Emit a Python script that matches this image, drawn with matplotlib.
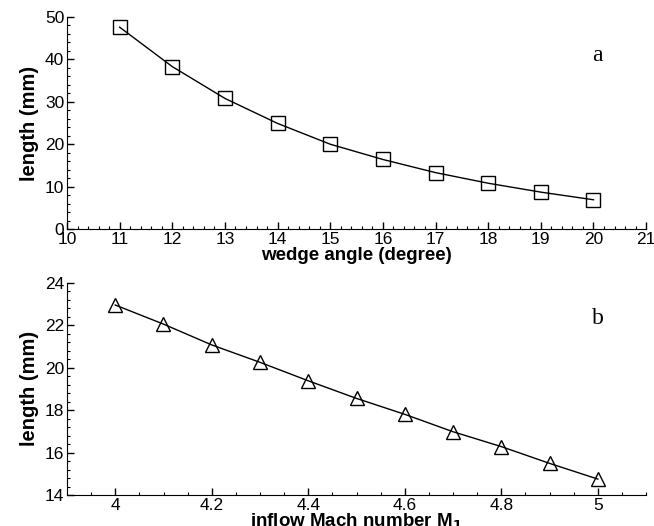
import numpy as np
import matplotlib.pyplot as plt
from matplotlib.ticker import MultipleLocator

# data
wedge_angle = [11, 12, 13, 14, 15, 16, 17, 18, 19, 20]
length_a = [47.6, 38.3, 30.8, 24.9, 20.0, 16.4, 13.3, 10.8, 8.7, 6.9]

mach = [4.0, 4.1, 4.2, 4.3, 4.4, 4.5, 4.6, 4.7, 4.8, 4.9, 5.0]
length_b = [22.95, 22.05, 21.07, 20.25, 19.38, 18.55, 17.8, 16.98, 16.28, 15.49, 14.75]

plt.rcParams['font.family'] = ['Liberation Sans', 'DejaVu Sans']
plt.rcParams['font.size'] = 12.5

fig = plt.figure(figsize=(6.54, 5.26), dpi=100)
ax1 = fig.add_axes([0.1024, 0.5646, 0.8856, 0.4031])
ax2 = fig.add_axes([0.1024, 0.0589, 0.8856, 0.4036])

ax1.plot(wedge_angle, length_a, color='black', lw=1,
         marker='s', ms=9.5, mfc='none', mec='black', mew=1)
ax1.set_xlim(10, 21)
ax1.set_ylim(0, 50)
ax1.xaxis.set_major_locator(MultipleLocator(1))
ax1.xaxis.set_minor_locator(MultipleLocator(0.2))
ax1.yaxis.set_major_locator(MultipleLocator(10))
ax1.yaxis.set_minor_locator(MultipleLocator(2))
ax1.set_xlabel('wedge angle (degree)', fontweight='bold', fontsize=13.5, labelpad=0)
ax1.set_ylabel('length (mm)', fontweight='bold', fontsize=14.5, labelpad=4)
ax1.text(20.07, 41, 'a', family='Liberation Serif', fontsize=17, ha='center', va='center')

ax2.plot(mach, length_b, color='black', lw=1,
         marker='^', ms=10, mfc='none', mec='black', mew=1)
ax2.set_xlim(3.9, 5.1)
ax2.set_ylim(14, 24)
ax2.xaxis.set_major_locator(MultipleLocator(0.2))
ax2.xaxis.set_minor_locator(MultipleLocator(0.05))
ax2.yaxis.set_major_locator(MultipleLocator(2))
ax2.yaxis.set_minor_locator(MultipleLocator(0.4))
ax2.set_xticks([4, 4.2, 4.4, 4.6, 4.8, 5])
ax2.set_xticklabels(['4', '4.2', '4.4', '4.6', '4.8', '5'])
ax2.set_xlabel('inflow Mach number M$_\\mathbf{1}$', fontweight='bold', fontsize=13.5, labelpad=-1)
ax2.set_ylabel('length (mm)', fontweight='bold', fontsize=14.5, labelpad=4)
ax2.text(5.0, 22.3, 'b', family='Liberation Serif', fontsize=17, ha='center', va='center')

for ax in (ax1, ax2):
    ax.spines['top'].set_visible(False)
    ax.spines['right'].set_visible(False)
    ax.tick_params(which='major', direction='in', length=5, width=1, pad=2)
    ax.tick_params(which='minor', direction='in', length=2.5, width=0.8)
    ax.set_facecolor('white')

fig.savefig('out.png', dpi=100)
